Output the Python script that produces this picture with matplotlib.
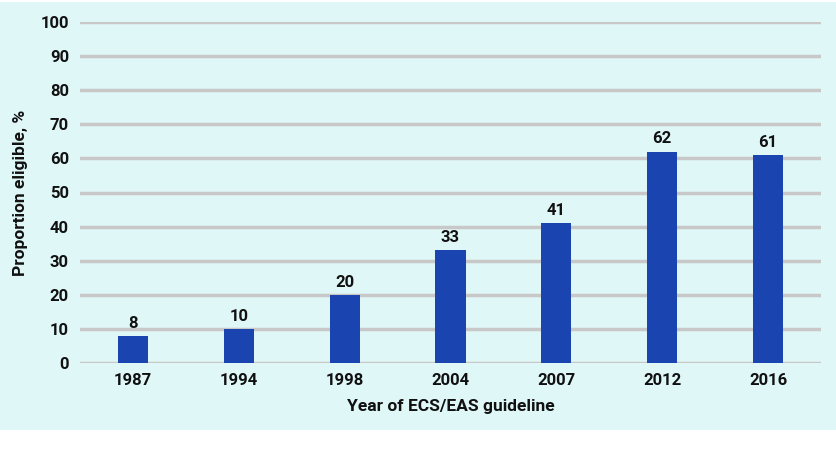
import matplotlib
matplotlib.use("Agg")
import matplotlib.pyplot as plt
from matplotlib.patches import Rectangle

years = ["1987", "1994", "1998", "2004", "2007", "2012", "2016"]
values = [8, 10, 20, 33, 41, 62, 61]
yticks = [0, 10, 20, 30, 40, 50, 60, 70, 80, 90, 100]

plt.rcParams['font.family'] = ['Roboto', 'DejaVu Sans']

W, H = 837, 450
fig = plt.figure(figsize=(W/100, H/100), dpi=100)
fig.patch.set_facecolor('white')
fig.patches.append(Rectangle((0, 20/H), 1, 1 - 20/H - 2/H, transform=fig.transFigure,
                             facecolor='#e0f7f8', edgecolor='none', zorder=-10))

ax = fig.add_axes([80/W, 87/H, 741/W, 341/H])
ax.set_zorder(5)
ax.set_facecolor('none')
x = list(range(len(years)))
ax.bar(x, values, width=0.285, color='#1a44b0', zorder=3)
for xi, v in zip(x, values):
    ax.text(xi, v + 1.5, str(v), ha='center', va='bottom', fontsize=12,
            fontweight='bold', color='#111111')

ax.set_xlim(-0.5, len(years) - 0.5)
ax.set_ylim(0, 100)
ax.set_yticks(yticks)
ax.set_yticklabels([str(t) for t in yticks])
ax.set_xticks(x)
ax.set_xticklabels(years)
for sp in ax.spines.values():
    sp.set_visible(False)
ax.tick_params(axis='both', length=0, labelsize=12, colors='#111111')
ax.tick_params(axis='y', pad=8)
ax.tick_params(axis='x', pad=7)
for lbl in ax.get_xticklabels() + ax.get_yticklabels():
    lbl.set_fontweight('bold')
ax.yaxis.grid(True, color='#c8c8c8', linewidth=2.5, zorder=1)
ax.set_axisbelow(True)
ax.set_xlabel("Year of ECS/EAS guideline", fontsize=12.5, fontweight='bold',
              color='#111111', labelpad=8)
ax.set_ylabel("Proportion eligible, %", fontsize=12.5, fontweight='bold',
              color='#111111', labelpad=9)

fig.savefig("out.png", dpi=100, facecolor=fig.get_facecolor())
